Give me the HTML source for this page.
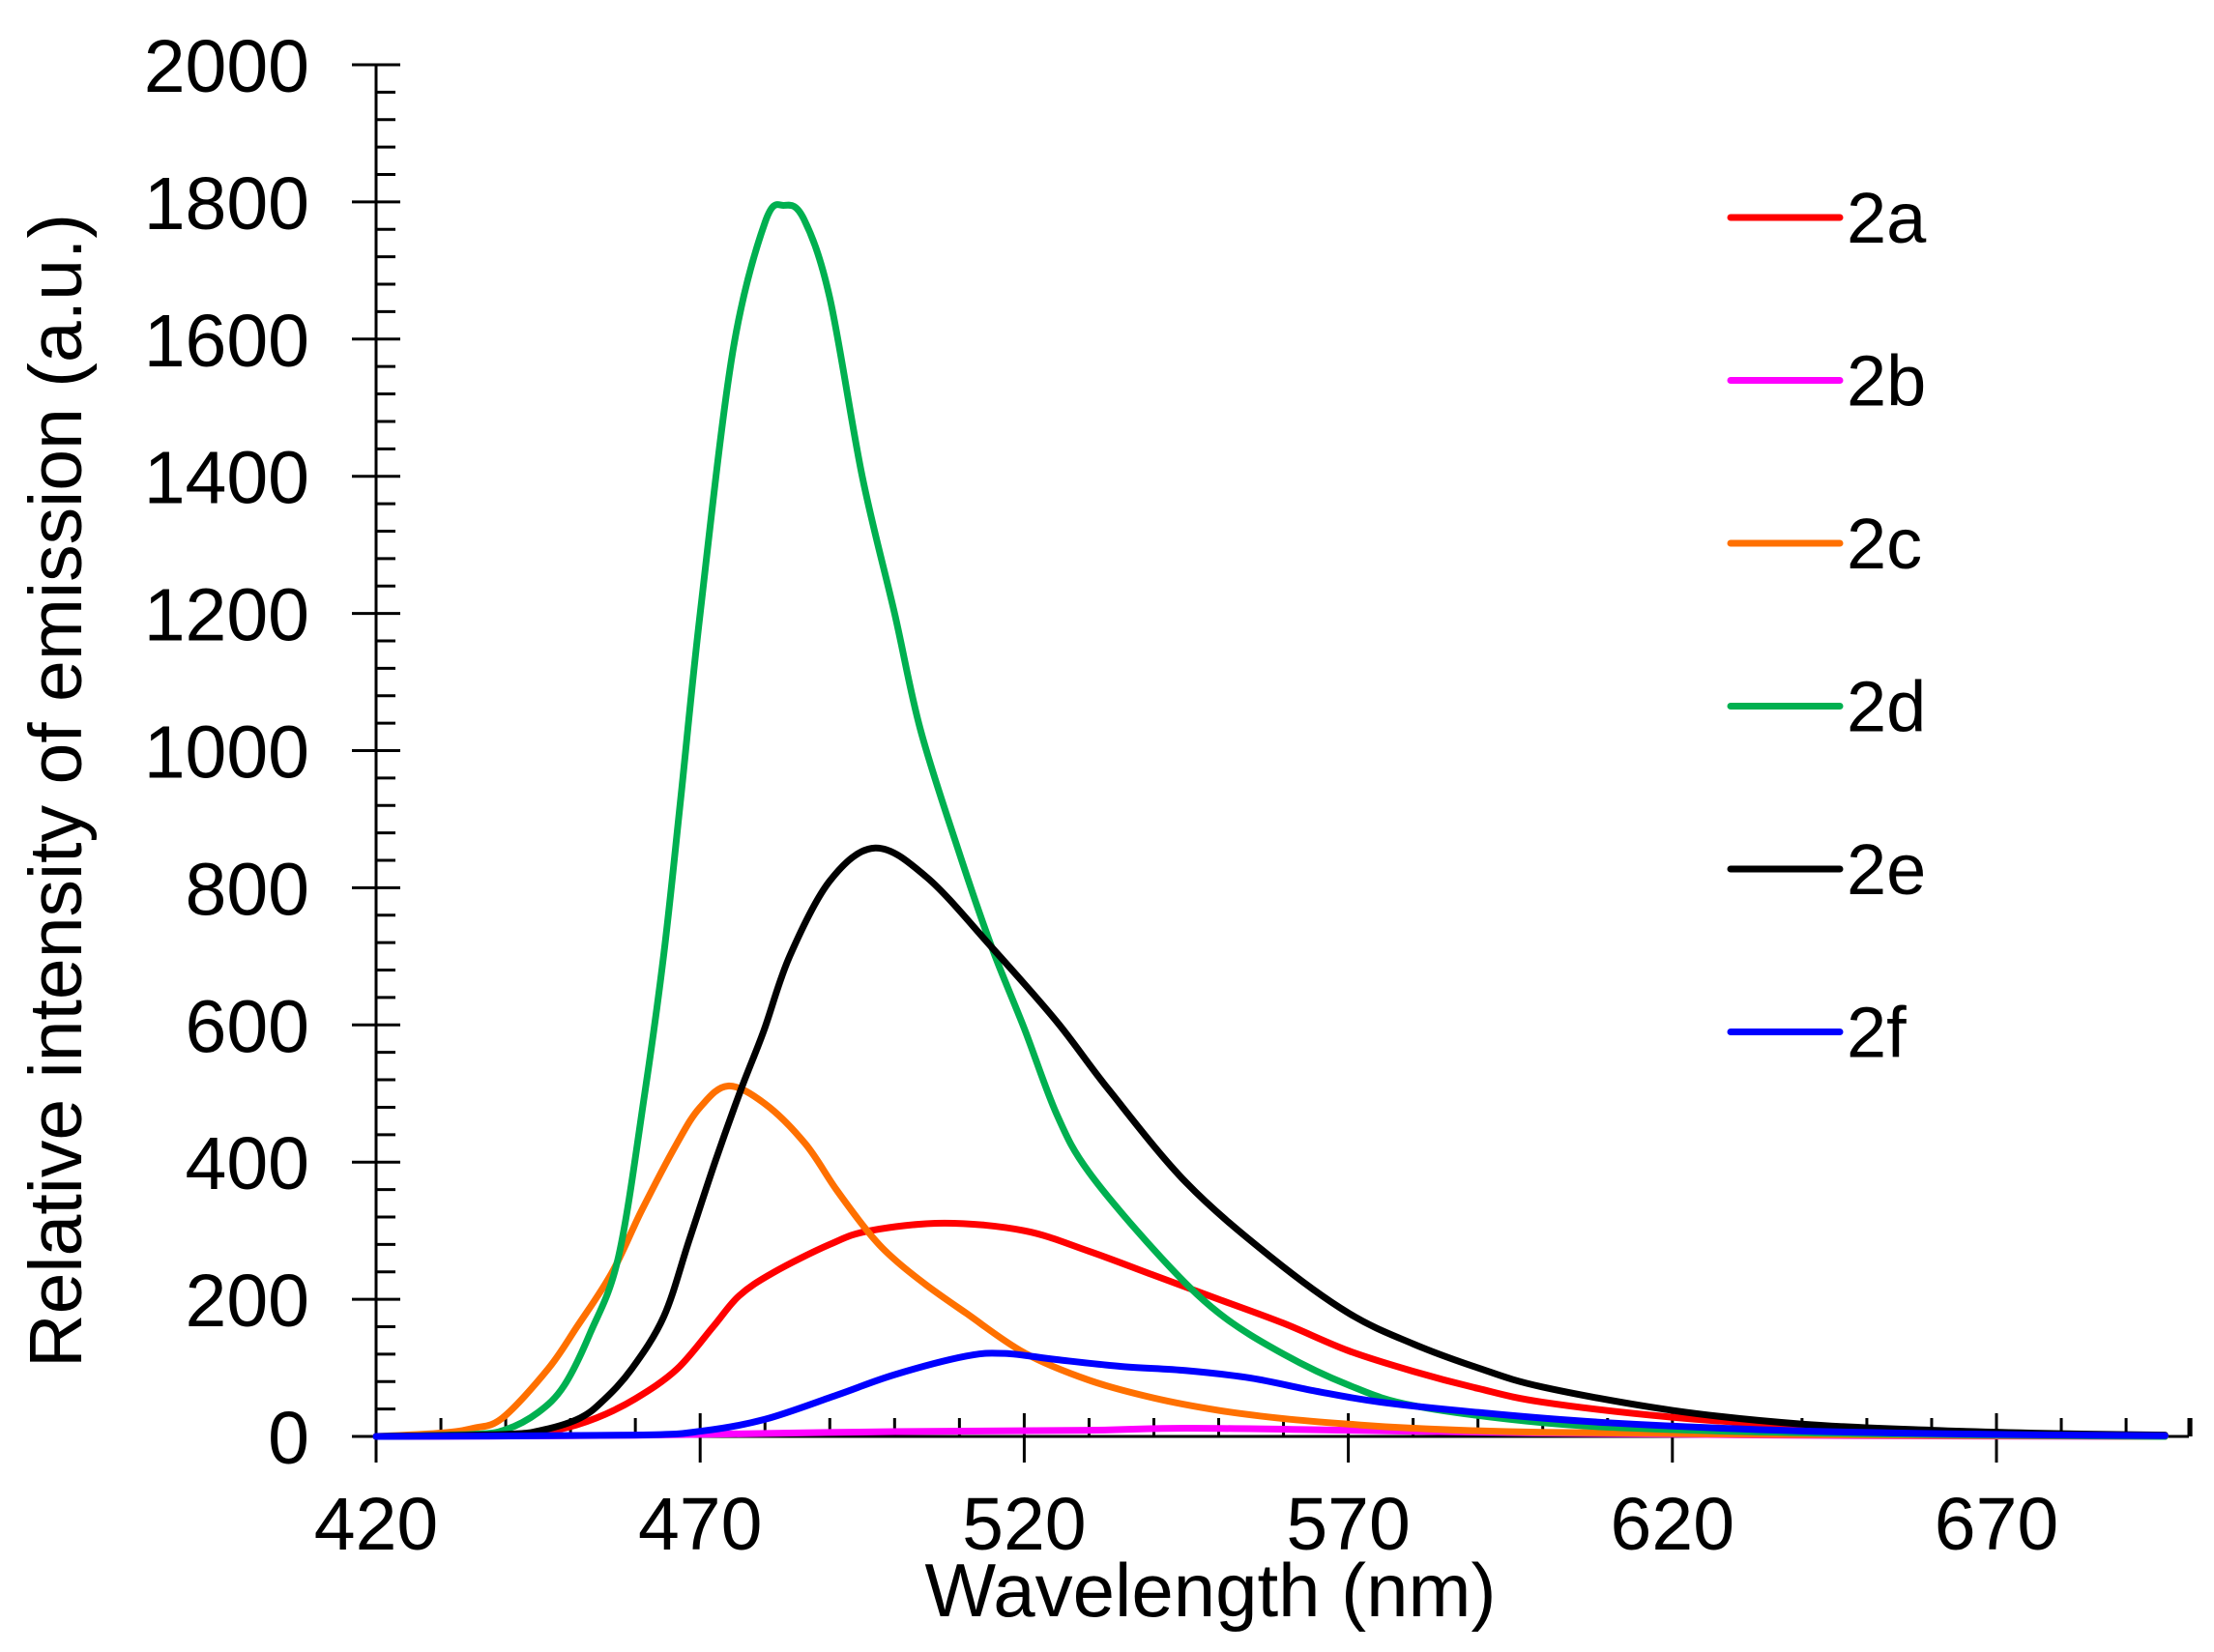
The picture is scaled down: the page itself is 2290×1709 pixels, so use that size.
<!DOCTYPE html>
<html><head><meta charset="utf-8"><style>
html,body{margin:0;padding:0;background:#fff}
svg{display:block}
text{font-family:"Liberation Sans",Arial,sans-serif;fill:#000}
</style></head><body>
<svg id="s" width="2290" height="1709" viewBox="0 0 2290 1709" xmlns="http://www.w3.org/2000/svg">
<g id="ax" stroke="#000" stroke-width="3" fill="none"></g>
<g id="lab" font-size="77" text-anchor="end"></g>
<g id="curves" fill="none" stroke-width="7" stroke-linejoin="round" stroke-linecap="round"></g>
<text x="1252" y="1672" font-size="78" text-anchor="middle">Wavelength (nm)</text>
<text transform="translate(84,818) rotate(-90)" font-size="77" text-anchor="middle">Relative intensity of emission (a.u.)</text>
<g id="leg" font-size="74"></g>
</svg>
<script>
var NS="http://www.w3.org/2000/svg";
function X(w){return 389+(w-420)*6.704;}
function Y(v){return 1486-v*0.7095;}
function el(p,t,a,txt){var e=document.createElementNS(NS,t);for(var k in a)e.setAttribute(k,a[k]);if(txt)e.textContent=txt;p.appendChild(e);return e;}
var ax=document.getElementById('ax'),lab=document.getElementById('lab');
el(ax,'line',{x1:389,y1:67,x2:389,y2:1486});
el(ax,'line',{x1:389,y1:1486,x2:2264,y2:1486});
for(var v=0;v<=2000;v+=40){var y=Y(v);var maj=v%200==0;el(ax,'line',{x1:maj?364:389,y1:y,x2:maj?414:409,y2:y});
 if(maj)el(lab,'text',{x:320,y:y+28},String(v));}
for(var w=420;w<=700;w+=10){var x=X(w);var maj=(w-420)%50==0;el(ax,'line',{x1:x,y1:maj?1462:1467,x2:x,y2:maj?1513:1486});
 if(maj)el(lab,'text',{x:x,y:1603,'text-anchor':'middle'},String(w));}
el(ax,'line',{x1:2264,y1:1467,x2:2264,y2:1486});
var data={
'#ff0000':[[420,0],[440,2],[448,10],[454,27],[460,55],[466.4,98],[472,160],[476,205],[481.3,239],[490,280],[496.2,300],[507.7,311],[520,300],[530,270],[540,235],[550,200],[560,165],[570,125],[580,95],[590,70],[600,50],[620,28],[640,15],[660,7],[680,3],[696,1]],
'#ff00ff':[[420,0],[450,1],[470,3],[500,7],[530,9],[545,12],[570,9],[600,5],[650,1],[696,0]],
'#ff7000':[[420,0],[430,5],[435,12],[439.5,27],[446.5,98],[451,160],[456.4,239],[461,330],[466.4,427],[470,480],[474.3,511],[480,485],[486.2,427],[491,360],[496.2,295],[500,258],[505,220],[511,180],[520,122],[530,82],[540,56],[550,38],[560,26],[570,18],[580,12],[600,6],[650,2],[696,0]],
'#00b050':[[420,0],[435,3],[440,10],[445,35],[449,74],[453,150],[457.4,262],[461.4,497],[464.4,704],[467,930],[470,1200],[475,1580],[480,1770],[483,1795],[486,1775],[490,1660],[495,1400],[500,1200],[504,1030],[510,850],[515,713],[520,595],[525,470],[530,385],[541,262],[550,180],[560,120],[570,75],[580,45],[600,20],[620,10],[650,4],[696,0]],
'#000000':[[420,0],[440,3],[446,10],[451.5,27],[455,52],[459.4,98],[464.4,175],[468.3,286],[472.4,403],[476.3,506],[479.8,591],[483.8,700],[490,810],[497,858],[505,815],[515,713],[525,605],[533,506],[545,370],[558,262],[570,180],[580,135],[590,100],[600,72],[620,38],[640,18],[660,9],[680,4],[696,2]],
'#0000ff':[[420,0],[460,2],[470.4,8],[480,25],[491,60],[500,90],[511,117],[517,121],[525,112],[535,102],[545,96],[555,85],[565,66],[575,50],[590,35],[610,20],[640,8],[670,3],[696,1]]
};
var cg=document.getElementById('curves');
for(var c in data){var p=data[c].map(function(d){return [X(d[0]),Y(d[1])];});
 var s='M'+p[0][0]+','+p[0][1];
 for(var i=0;i<p.length-1;i++){var p0=p[Math.max(i-1,0)],p1=p[i],p2=p[i+1],p3=p[Math.min(i+2,p.length-1)];
  s+=' C'+(p1[0]+(p2[0]-p0[0])/6)+','+(p1[1]+(p2[1]-p0[1])/6)+' '+(p2[0]-(p3[0]-p1[0])/6)+','+(p2[1]-(p3[1]-p1[1])/6)+' '+p2[0]+','+p2[1];}
 el(cg,'path',{d:s,stroke:c});}
var lg=document.getElementById('leg');
var names=['2a','2b','2c','2d','2e','2f'],cols=Object.keys(data);
for(var i=0;i<6;i++){var y=225+i*168.5;el(lg,'line',{x1:1790,y1:y,x2:1903,y2:y,stroke:cols[i],'stroke-width':7,'stroke-linecap':'round'});
 el(lg,'text',{x:1910,y:y+26},names[i]);}
</script>
</body></html>
